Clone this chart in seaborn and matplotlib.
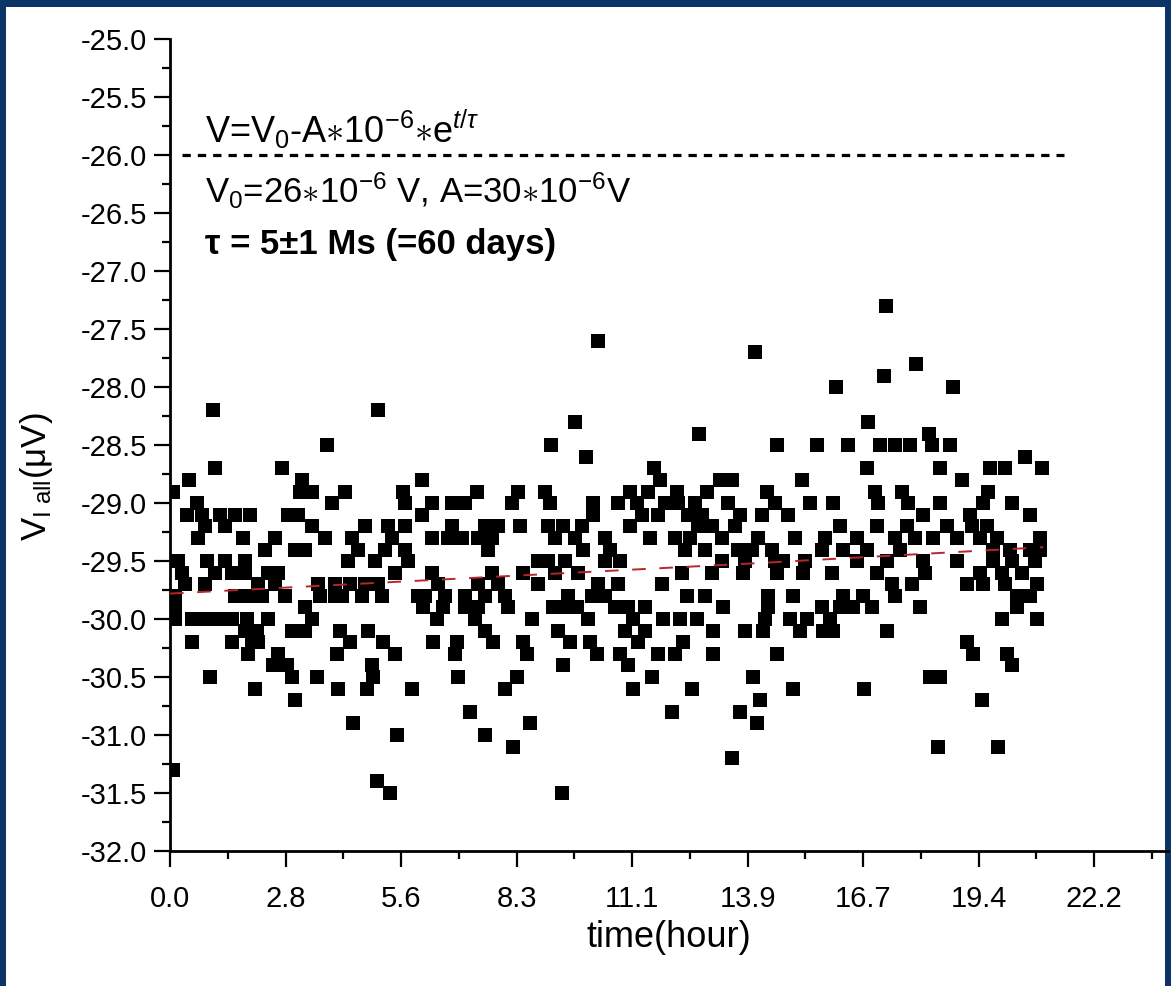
import matplotlib
matplotlib.use("Agg")
import matplotlib.pyplot as plt
import seaborn as sns
import pandas as pd
from matplotlib.patches import Rectangle
from matplotlib.ticker import FixedLocator, MultipleLocator

# ---------------- data ----------------
# measured voltage levels (uV) and the times (hours) at which a point sits on that level
levels = [-27.3, -27.6, -27.7, -27.8, -27.9, -28.0, -28.2, -28.3, -28.4, -28.5,
          -28.6, -28.7, -28.8, -28.9, -29.0, -29.1, -29.2, -29.3, -29.4, -29.5,
          -29.6, -29.7, -29.8, -29.9, -30.0, -30.1, -30.2, -30.3, -30.4, -30.5,
          -30.6, -30.7, -30.8, -30.9, -31.0, -31.1, -31.2, -31.3, -31.4, -31.5]

times_at_level = [
    [17.21],                                   # -27.3
    [10.29],                                   # -27.6
    [14.06],                                   # -27.7
    [17.93],                                   # -27.8
    [17.16],                                   # -27.9
    [16.01, 18.82],                            # -28.0
    [1.03, 5.00],                              # -28.2
    [9.74, 16.78],                             # -28.3
    [12.72, 18.25],                            # -28.4
    [3.77, 9.16, 14.59, 15.55, 16.30, 17.07, 17.43, 17.79, 18.32, 18.75],   # -28.5
    [10.00, 20.55],                            # -28.6
    [1.08, 2.69, 11.63, 16.75, 18.51, 19.71, 20.07, 20.96],                 # -28.7
    [0.46, 3.17, 6.06, 11.78, 13.22, 13.51, 15.19, 19.04],                  # -28.8
    [0.07, 3.13, 3.41, 4.21, 5.60, 7.38, 8.37, 9.01, 11.06, 11.49, 12.19,
     12.91, 14.35, 16.95, 17.60, 19.66],                                    # -28.9
    [0.65, 3.89, 5.65, 6.30, 6.78, 7.09, 8.22, 9.13, 10.17, 10.77, 11.23,
     11.90, 12.21, 12.62, 13.41, 14.54, 15.38, 15.94, 17.02, 17.74, 18.51,
     19.54, 20.26],                                                         # -29.0
    [0.41, 0.77, 1.20, 1.56, 1.92, 2.84, 3.08, 6.06, 10.17, 11.35, 11.73,
     12.45, 12.79, 13.70, 14.23, 14.86, 18.10, 19.23, 20.67],               # -29.1
    [0.84, 1.32, 3.41, 4.69, 5.24, 5.65, 6.78, 7.57, 7.88, 8.41, 9.09, 9.45,
     9.90, 11.06, 12.69, 13.03, 13.58, 16.11, 17.00, 17.72, 18.68, 19.28,
     19.64],                                                                # -29.2
    [0.67, 1.75, 2.52, 3.73, 4.38, 5.34, 6.30, 6.68, 7.02, 7.40, 7.74, 9.25,
     9.74, 10.46, 11.54, 12.14, 12.50, 13.27, 14.13, 15.02, 15.75, 16.51,
     17.43, 17.91, 18.34, 18.92, 19.47, 19.88, 20.91],                      # -29.3
    [2.28, 3.00, 3.25, 4.52, 5.17, 5.65, 7.64, 9.93, 10.58, 12.38, 12.86,
     13.65, 13.99, 14.47, 15.67, 16.18, 16.75, 17.55, 19.78, 20.19, 20.67,
     20.91],                                                                # -29.4
    [0.19, 0.89, 1.32, 1.80, 4.28, 4.93, 5.72, 8.85, 9.09, 9.50, 10.46,
     10.82, 13.27, 13.82, 14.54, 14.74, 15.26, 16.51, 17.24, 18.10, 18.92,
     19.78, 20.26, 20.79],                                                  # -29.5
    [0.29, 1.08, 1.49, 1.80, 2.36, 2.60, 5.41, 6.30, 7.74, 8.49, 9.25, 9.81,
     12.31, 13.03, 13.77, 14.59, 15.22, 15.91, 17.00, 18.15, 19.47, 20.02,
     20.50],                                                                # -29.6
    [0.36, 0.84, 2.12, 2.52, 3.56, 3.97, 4.33, 4.69, 5.00, 6.44, 7.40, 7.88,
     8.85, 10.29, 10.77, 11.83, 17.36, 17.84, 19.16, 19.54, 20.07, 20.84],  # -29.7
    [0.12, 1.56, 1.88, 2.21, 2.76, 3.61, 3.97, 4.13, 4.62, 5.10, 5.96, 6.13,
     6.61, 7.09, 7.57, 8.05, 9.57, 10.14, 10.46, 12.43, 12.86, 14.38, 14.98,
     16.18, 16.66, 17.43, 20.36, 20.67],                                    # -29.8
    [0.12, 3.25, 6.08, 6.56, 7.09, 7.40, 8.13, 9.21, 9.50, 9.78, 10.70,
     11.01, 11.42, 13.29, 14.38, 15.67, 16.11, 16.42, 16.88, 18.03, 20.38], # -29.9
    [0.12, 0.53, 0.84, 1.15, 1.49, 1.85, 2.36, 3.41, 6.42, 7.33, 8.70,
     10.05, 11.13, 11.85, 12.26, 12.67, 14.30, 14.90, 15.31, 15.87, 20.00,
     20.84],                                                                # -30.0
    [1.80, 2.09, 2.93, 3.25, 4.09, 4.76, 7.57, 9.33, 10.94, 11.42, 13.05,
     13.82, 14.25, 15.14, 15.70, 15.94, 17.24],                             # -30.1
    [0.53, 1.49, 1.97, 2.12, 4.33, 5.12, 6.32, 6.90, 7.76, 8.49, 9.62,
     10.10, 11.25, 12.33, 19.16],                                           # -30.2
    [1.88, 2.60, 4.01, 5.41, 6.85, 8.58, 10.26, 10.82, 11.73, 12.14, 13.05,
     14.59, 19.30, 20.14],                                                  # -30.3
    [2.48, 2.81, 4.86, 9.45, 11.01, 20.24],                                 # -30.4
    [0.96, 2.93, 3.53, 4.88, 6.92, 8.34, 11.59, 14.01, 18.27, 18.51],       # -30.5
    [2.04, 4.04, 4.74, 5.82, 8.05, 11.13, 12.55, 14.98, 16.68],             # -30.6
    [3.00, 14.18, 19.52],                      # -30.7
    [7.21, 12.07, 13.70],                      # -30.8
    [4.40, 8.65, 14.11],                       # -30.9
    [5.46, 7.57],                              # -31.0
    [8.25, 18.46, 19.90],                      # -31.1
    [13.51],                                   # -31.2
    [0.07],                                    # -31.3
    [4.98],                                    # -31.4
    [5.29, 9.42],                              # -31.5
]

# fitted curve (red dashed)
fit_t = [0.0, 7.0, 14.0, 21.0]
fit_v = [-29.78, -29.65, -29.52, -29.38]

# reference level V0 (black dashed)
ref_t = [0.3, 21.5]
ref_v = [-26.0, -26.0]

# axis ticks
xtick_seconds = [0, 10000, 20000, 30000, 40000, 50000, 60000, 70000, 80000]
xtick_labels = ['0.0', '2.8', '5.6', '8.3', '11.1', '13.9', '16.7', '19.4', '22.2']
ytick_values = [-32.0, -31.5, -31.0, -30.5, -30.0, -29.5, -29.0, -28.5,
                -28.0, -27.5, -27.0, -26.5, -26.0, -25.5, -25.0]

# ---------------- style ----------------
sns.set_theme(style='ticks')
plt.rcParams['font.family'] = ['Liberation Sans', 'DejaVu Sans']
plt.rcParams['mathtext.fontset'] = 'custom'
plt.rcParams['mathtext.rm'] = 'Liberation Sans'
plt.rcParams['mathtext.it'] = 'Liberation Sans:italic'
plt.rcParams['mathtext.bf'] = 'Liberation Sans:bold'

t_all, v_all = [], []
for lev, ts in zip(levels, times_at_level):
    t_all.extend(ts)
    v_all.extend([lev] * len(ts))
df = pd.DataFrame({'time_h': t_all, 'V': v_all})

W, H = 1171, 986
fig = plt.figure(figsize=(W / 100, H / 100), dpi=100)
fig.patch.set_facecolor('#0a3566')
fig.add_artist(Rectangle((6 / W, 0), (1165 - 6) / W, 1 - 7 / H,
                         transform=fig.transFigure, facecolor='white',
                         edgecolor='none', zorder=-10))

ax = fig.add_axes([170 / W, (H - 851) / H, 998 / W, 811.7 / H])
ax.patch.set_alpha(0)

sns.scatterplot(data=df, x='time_h', y='V', ax=ax, marker='s', s=102,
                color='black', linewidth=0, zorder=3, legend=False)
sns.lineplot(x=fit_t, y=fit_v, ax=ax, color='#b8262b', linewidth=1.4,
             linestyle=(0, (7, 7)), zorder=4)
sns.lineplot(x=ref_t, y=ref_v, ax=ax, color='black', linewidth=2.3,
             linestyle=(0, (2.6, 2.2)), zorder=4)

ax.set_xlim(0, 24.0)
ax.set_ylim(-32, -25)

ax.xaxis.set_major_locator(FixedLocator([s / 3600 for s in xtick_seconds]))
ax.set_xticklabels(xtick_labels)
ax.xaxis.set_minor_locator(FixedLocator([(s + 5000) / 3600 for s in xtick_seconds]))
ax.set_yticks(ytick_values)
ax.set_yticklabels([f'{y:.1f}' for y in ytick_values])
ax.yaxis.set_minor_locator(MultipleLocator(0.25))

for side in ['top', 'right']:
    ax.spines[side].set_visible(False)
for side in ['left', 'bottom']:
    ax.spines[side].set_linewidth(2.0)
    ax.spines[side].set_color('black')

ax.tick_params(axis='both', which='major', direction='out', length=11.5,
               width=1.6, labelsize=21, colors='black')
ax.tick_params(axis='both', which='minor', direction='out', length=6,
               width=1.6, colors='black')
ax.tick_params(axis='x', which='major', pad=13)
ax.tick_params(axis='y', which='major', pad=5)

ax.set_xlabel('time(hour)', fontsize=26, color='black')
ax.xaxis.set_label_coords(0.5, -0.107)
ax.xaxis.label.set_va('center')
ax.set_ylabel(r'V$_{\mathrm{I\ all}}$(μV)', fontsize=25, color='black')
ax.yaxis.set_label_coords(-0.134, 0.461)
ax.yaxis.label.set_va('center')

ax.text(0.035, 0.872, r'V=V$_0$-A$\ast$10$^{-6}$$\ast$e$^{t/\tau}$',
        transform=ax.transAxes, fontsize=26, va='baseline', color='black')
ax.text(0.035, 0.798, r'V$_0$=26$\ast$10$^{-6}$ V, A=30$\ast$10$^{-6}$V',
        transform=ax.transAxes, fontsize=25, va='baseline', color='black')
ax.text(0.035, 0.735, 'τ = 5±1 Ms (=60 days)', transform=ax.transAxes,
        fontsize=25, fontweight='bold', va='baseline', color='black')

fig.savefig('out.png', dpi=100, facecolor=fig.get_facecolor())
